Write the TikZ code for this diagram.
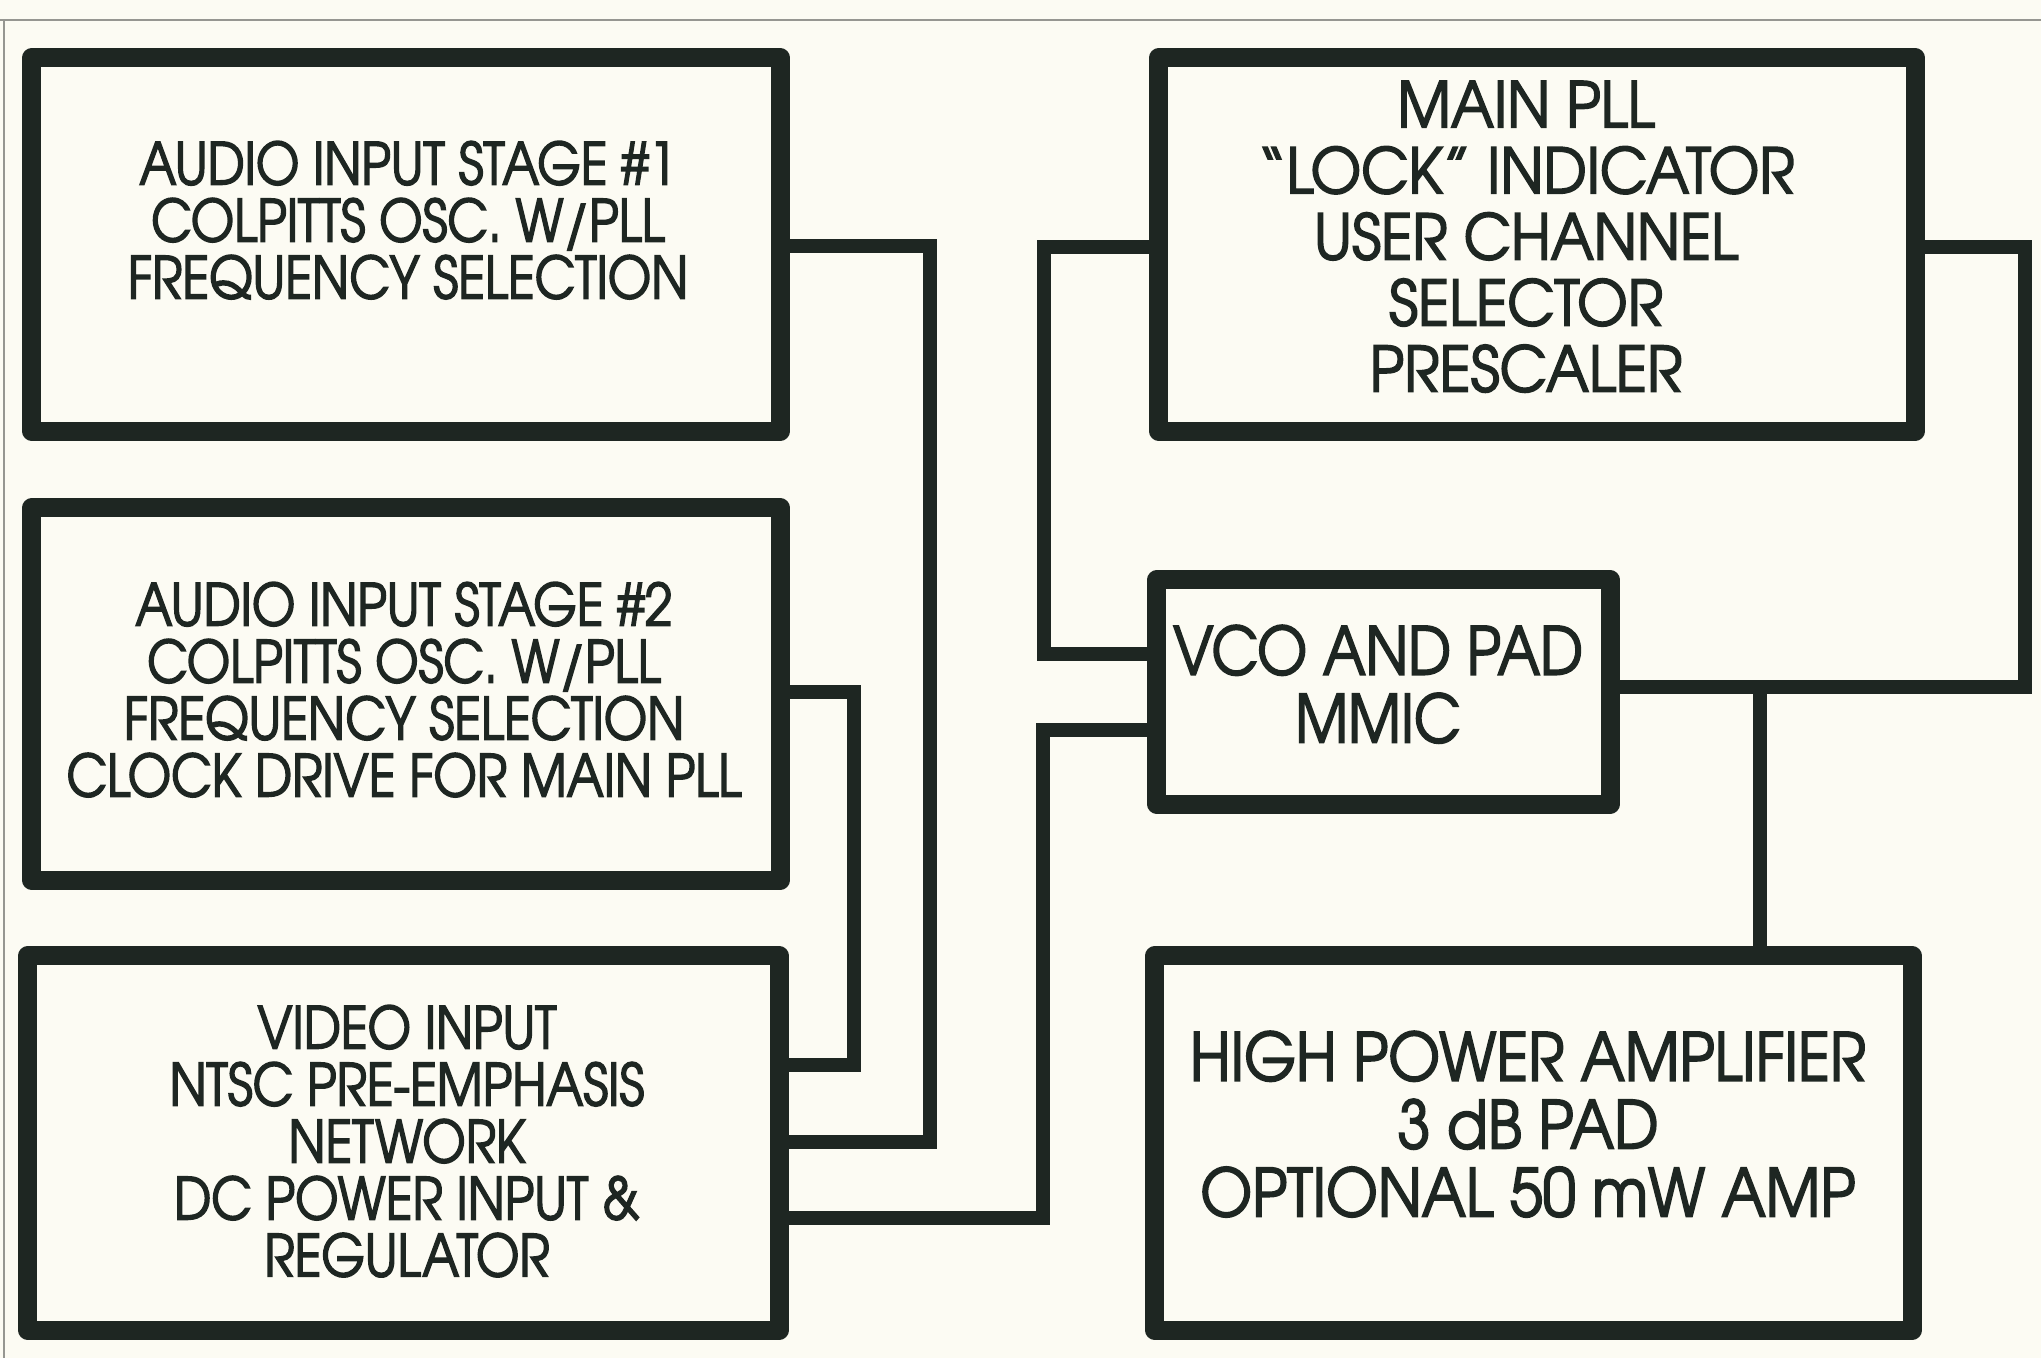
\documentclass[tikz,border=0pt]{standalone}
\usepackage{fontspec}
\setmainfont{TeX Gyre Adventor}[FakeStretch=0.87,FakeBold=2.5]
\newfontfamily\fleft{TeX Gyre Adventor}[FakeStretch=0.86,FakeBold=2.5]
\newfontfamily\fpll{TeX Gyre Adventor}[FakeStretch=0.93,FakeBold=2.5]
\newfontfamily\fvco{TeX Gyre Adventor}[FakeStretch=0.87,FakeBold=2.5]
\newfontfamily\fhpa{TeX Gyre Adventor}[FakeStretch=0.90,FakeBold=2.5]
\definecolor{paper}{RGB}{252,251,243}
\definecolor{ink}{RGB}{30,38,34}
\definecolor{rule}{RGB}{150,150,145}
\tikzset{
  blk/.style={draw=ink, line width=5.4pt, rectangle, inner sep=0pt, outer sep=0pt, line join=round},
  wire/.style={draw=ink, line width=4pt, line join=miter},
  lbl/.style={align=center, inner sep=0pt, outer sep=0pt, text=ink, anchor=north},
  small/.style={font=\fleft\fontsize{16.5pt}{16.2pt}\selectfont},
  big/.style={font=\fpll\fontsize{17.8pt}{18.8pt}\selectfont},
  vcof/.style={font=\fvco\fontsize{18.8pt}{19.3pt}\selectfont},
  hpaf/.style={font=\fhpa\fontsize{18.8pt}{19.3pt}\selectfont},
}
\begin{document}
\begin{tikzpicture}[x=0.01cm,y=-0.01cm]
\fill[paper] (0,0) rectangle (2041,1358);
\useasboundingbox (0,0) rectangle (2041,1358);
\coordinate (tl) at (0,20);
\coordinate (tr) at (2041,20);
\coordinate (ll) at (4,20);
\coordinate (lb) at (4,1358);
\draw[rule, line width=0.7pt] (tl) -- (tr);
\draw[rule, line width=0.7pt] (ll) -- (lb);

% boxes
\node[blk, minimum width=7.48cm, minimum height=3.73cm] (b1) at (406,244.5) {};
\node[blk, minimum width=7.48cm, minimum height=3.72cm] (b2) at (406,694) {};
\node[blk, minimum width=7.51cm, minimum height=3.74cm] (b3) at (403.5,1143) {};
\node[blk, minimum width=7.56cm, minimum height=3.73cm] (pll) at (1537,244.5) {};
\node[blk, minimum width=4.53cm, minimum height=2.24cm] (vco) at (1383.5,692) {};
\node[blk, minimum width=7.57cm, minimum height=3.74cm] (hpa) at (1533.5,1143) {};

% connector bends
\coordinate (a1) at (930,246);
\coordinate (a2) at (930,1142);
\coordinate (c1) at (854,692);
\coordinate (c2) at (854,1065);
\coordinate (d1) at (1043,1218);
\coordinate (d2) at (1043,730);
\coordinate (e1) at (1044,247);
\coordinate (e2) at (1044,654);
\coordinate (f1) at (2025,247);
\coordinate (f2) at (2025,687);
\coordinate (g1) at (1760,687);

\draw[wire] (b1.east |- a1) -- (a1) -- (a2) -- (b3.east |- a2);
\draw[wire] (b2.east |- c1) -- (c1) -- (c2) -- (b3.east |- c2);
\draw[wire] (b3.east |- d1) -- (d1) -- (d2) -- (vco.west |- d2);
\draw[wire] (pll.west |- e1) -- (e1) -- (e2) -- (vco.west |- e2);
\draw[wire] (pll.east |- f1) -- (f1) -- (f2) -- (vco.east |- f2);
\draw[wire] (g1) -- (hpa.north -| g1);

% labels
\node[lbl, small] (t1) at (408,141) {AUDIO INPUT STAGE \#1\\COLPITTS OSC. W/PLL\\FREQUENCY SELECTION};
\node[lbl, small] (t2) at (404,582) {AUDIO INPUT STAGE \#2\\COLPITTS OSC. W/PLL\\FREQUENCY SELECTION\\CLOCK DRIVE FOR MAIN PLL};
\node[lbl, small] (t3) at (407,1005) {VIDEO INPUT\\NTSC PRE-EMPHASIS\\NETWORK\\DC POWER INPUT \&\\REGULATOR};
\node[lbl, big] (t4) at (1526,81) {MAIN PLL\\“LOCK” INDICATOR\\USER CHANNEL\\SELECTOR\\PRESCALER};
\node[lbl, vcof] (t5) at (1378,625) {VCO AND PAD\\MMIC};
\node[lbl, hpaf] (t6) at (1528,1031) {HIGH POWER AMPLIFIER\\3 dB PAD\\OPTIONAL 50 mW AMP};
\end{tikzpicture}
\end{document}
